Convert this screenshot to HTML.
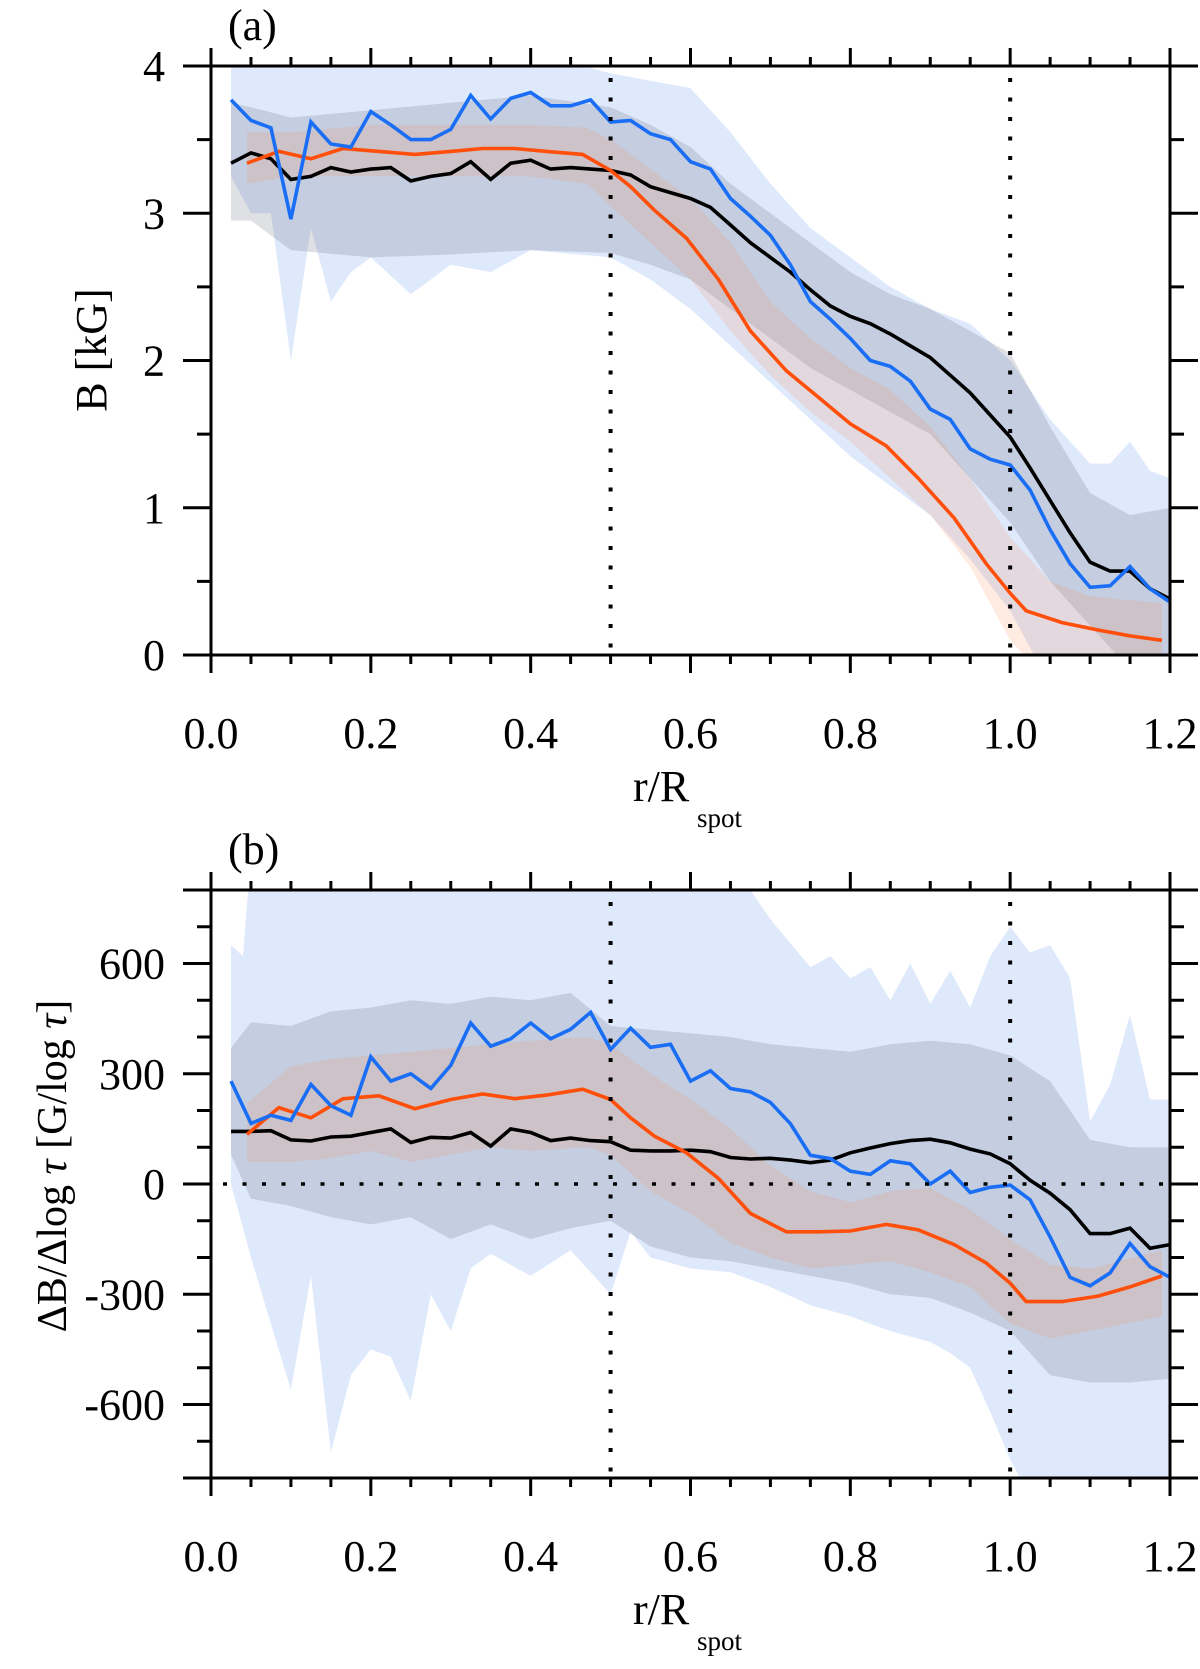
<!DOCTYPE html>
<html><head><meta charset="utf-8">
<style>
html,body{margin:0;padding:0;background:#fff;}
svg{display:block;font-family:"Liberation Serif",serif;}
</style></head>
<body>
<svg id="fig" width="1200" height="1669" viewBox="0 0 1200 1669">
<defs>
<clipPath id="clipA"><rect x="211" y="66" width="959" height="589"/></clipPath>
<clipPath id="clipB"><rect x="211" y="890" width="959" height="588"/></clipPath>
</defs>
<g id="panelA"></g>
<g id="panelB"></g>
</svg>
<script>
// ---------- Panel (a) data ----------
const xGrid = [0.025,0.05,0.075,0.1,0.125,0.15,0.175,0.2,0.225,0.25,0.275,0.3,0.325,0.35,0.375,0.4,0.425,0.45,0.475,0.5,0.525,0.55,0.575,0.6,0.625,0.65,0.675,0.7,0.725,0.75,0.775,0.8,0.825,0.85,0.875,0.9,0.925,0.95,0.975,1.0,1.025,1.05,1.075,1.1,1.125,1.15,1.175,1.2];
const aBlue = [3.77,3.63,3.58,2.96,3.62,3.47,3.45,3.69,3.6,3.5,3.5,3.57,3.8,3.64,3.78,3.82,3.73,3.73,3.77,3.62,3.63,3.54,3.5,3.35,3.3,3.1,2.98,2.85,2.65,2.4,2.28,2.15,2.0,1.96,1.86,1.67,1.6,1.4,1.33,1.29,1.12,0.85,0.62,0.46,0.47,0.6,0.45,0.36];
const aBlack = [3.34,3.41,3.37,3.23,3.25,3.31,3.28,3.3,3.31,3.22,3.25,3.27,3.35,3.23,3.34,3.36,3.3,3.31,3.3,3.29,3.26,3.18,3.14,3.1,3.04,2.92,2.8,2.7,2.6,2.48,2.37,2.3,2.25,2.18,2.1,2.02,1.9,1.78,1.63,1.48,1.27,1.05,0.83,0.63,0.57,0.57,0.45,0.38];
const xOrange = [0.045,0.085,0.125,0.165,0.21,0.255,0.3,0.34,0.38,0.42,0.465,0.5,0.525,0.555,0.595,0.635,0.675,0.72,0.76,0.8,0.845,0.885,0.93,0.97,1.0,1.02,1.065,1.11,1.15,1.19];
const aOrange = [3.34,3.42,3.37,3.44,3.42,3.4,3.42,3.44,3.44,3.42,3.4,3.29,3.18,3.02,2.83,2.55,2.2,1.93,1.75,1.57,1.42,1.2,0.93,0.62,0.42,0.3,0.22,0.17,0.13,0.1];
// bands (a)
const aBlueBandX = [0.025,0.05,0.075,0.1,0.125,0.15,0.175,0.2,0.25,0.3,0.35,0.4,0.5,0.55,0.6,0.65,0.7,0.75,0.8,0.85,0.9,0.95,1.0,1.05,1.1,1.125,1.15,1.175,1.2];
const aBlueBandHi = [4.1,4.1,4.1,4.0,4.1,4.1,4.1,4.1,4.1,4.1,4.1,4.1,3.95,3.9,3.85,3.55,3.2,2.9,2.7,2.5,2.35,2.25,2.0,1.6,1.3,1.3,1.45,1.25,1.2];
const aBlueBandLo = [3.25,3.0,3.0,2.0,2.9,2.4,2.6,2.7,2.45,2.65,2.6,2.75,2.7,2.55,2.35,2.1,1.85,1.6,1.35,1.15,0.95,0.65,0.3,-0.2,-0.2,-0.2,-0.2,-0.2,-0.2];
const aGrayBandX = [0.025,0.05,0.1,0.2,0.3,0.4,0.5,0.55,0.6,0.65,0.7,0.75,0.8,0.85,0.9,0.95,1.0,1.05,1.1,1.15,1.2];
const aGrayBandHi = [3.75,3.72,3.65,3.7,3.75,3.8,3.72,3.6,3.45,3.2,3.0,2.8,2.6,2.45,2.35,2.2,2.05,1.55,1.1,0.95,1.0];
const aGrayBandLo = [2.95,2.95,2.75,2.7,2.72,2.75,2.73,2.65,2.55,2.35,2.15,1.95,1.8,1.65,1.5,1.2,0.9,0.5,0.2,-0.1,-0.2];
const aOrBandX = [0.045,0.1,0.2,0.3,0.4,0.47,0.5,0.55,0.6,0.65,0.7,0.75,0.8,0.85,0.9,0.95,1.0,1.05,1.1,1.19];
const aOrBandHi = [3.55,3.55,3.6,3.6,3.6,3.58,3.5,3.3,3.1,2.8,2.4,2.15,1.95,1.8,1.55,1.2,0.8,0.5,0.4,0.35];
const aOrBandLo = [3.2,3.25,3.25,3.25,3.25,3.2,3.05,2.8,2.55,2.2,1.9,1.65,1.45,1.2,0.95,0.6,0.1,-0.2,-0.2,-0.2];
const aYTicks = [0,1,2,3,4];
const xTickLabels = ["0.0","0.2","0.4","0.6","0.8","1.0","1.2"];

// ---------- Panel (b) data ----------
const bBlue = [280,165,187,173,271,213,187,346,280,300,260,323,438,375,395,438,395,421,467,366,424,372,380,280,308,260,251,222,164,78,69,35,26,63,55,0,35,-23,-9,-3,-43,-144,-254,-277,-242,-162,-225,-254];
const bBlack = [143,143,145,120,117,128,130,140,150,113,127,125,140,103,150,140,118,125,118,115,92,90,90,92,88,72,68,70,65,58,65,85,98,110,118,122,112,95,82,55,10,-25,-70,-135,-135,-120,-175,-165];
const bOrange = [135,208,180,232,240,205,230,245,232,242,258,230,180,130,85,15,-80,-130,-130,-128,-110,-125,-165,-215,-270,-320,-320,-305,-280,-250];
const bBlueBandX = [0.025,0.04,0.05,0.075,0.1,0.125,0.15,0.175,0.2,0.225,0.25,0.275,0.3,0.325,0.35,0.4,0.45,0.5,0.525,0.55,0.6,0.65,0.7,0.75,0.775,0.8,0.825,0.85,0.875,0.9,0.925,0.95,0.975,1.0,1.025,1.05,1.075,1.1,1.125,1.15,1.175,1.2];
const bBlueBandHi = [650,620,900,900,900,900,900,900,900,900,900,900,900,900,900,900,900,900,900,900,900,880,720,590,620,560,590,500,600,490,580,480,620,700,630,650,560,170,270,460,230,230];
const bBlueBandLo = [0,-120,-200,-380,-560,-250,-730,-520,-450,-470,-590,-300,-400,-230,-190,-250,-180,-300,-130,-200,-230,-240,-280,-330,-345,-360,-380,-400,-415,-430,-460,-500,-620,-750,-850,-900,-900,-900,-900,-900,-900,-900];
const bGrayBandX = [0.025,0.05,0.1,0.15,0.2,0.25,0.3,0.35,0.4,0.45,0.5,0.55,0.6,0.65,0.7,0.75,0.8,0.85,0.9,0.95,1.0,1.05,1.1,1.15,1.2];
const bGrayBandHi = [370,440,430,470,480,500,490,510,500,520,430,420,410,400,380,370,360,380,390,380,350,280,120,100,100];
const bGrayBandLo = [80,-40,-60,-90,-110,-90,-150,-110,-150,-120,-100,-170,-200,-210,-230,-250,-270,-300,-310,-350,-400,-520,-540,-540,-530];
const bOrBandX = [0.045,0.1,0.15,0.2,0.25,0.3,0.35,0.4,0.47,0.5,0.55,0.6,0.65,0.7,0.75,0.8,0.85,0.9,0.95,1.0,1.05,1.1,1.19];
const bOrBandHi = [220,320,340,350,360,370,380,390,400,380,300,230,150,50,-20,-50,-20,-10,-70,-150,-220,-230,-180];
const bOrBandLo = [60,60,70,90,60,80,100,90,100,80,-20,-80,-160,-200,-230,-220,-210,-240,-280,-380,-420,-400,-360];
const bYTicks = [-600,-300,0,300,600];

const NS = "http://www.w3.org/2000/svg";
function mk(tag, attrs, parent){const e=document.createElementNS(NS,tag);for(const k in attrs)e.setAttribute(k,attrs[k]);parent.appendChild(e);return e;}

const X0=211, X1=1170;
function xs(v){return X0+(v/1.2)*(X1-X0);}

function drawPanel(g, cfg){
  const ys = v => cfg.yb + (v-cfg.ymin)/(cfg.ymax-cfg.ymin)*(cfg.yt-cfg.yb);
  const clip = mk('g',{'clip-path':'url(#'+cfg.clip+')'},g);
  function band(bx,hi,lo,fill,name){
    let d='M';
    bx.forEach((x,i)=>{d+=(i?'L':'')+xs(x).toFixed(1)+','+ys(hi[i]).toFixed(1);});
    for(let i=bx.length-1;i>=0;i--)d+='L'+xs(bx[i]).toFixed(1)+','+ys(lo[i]).toFixed(1);
    const p=mk('path',{d:d+'Z',fill:fill,stroke:'none'},clip);
    
    
  }
  band(cfg.blueBand[0],cfg.blueBand[1],cfg.blueBand[2],'rgb(222,233,252)','blue-error-band');
  band(cfg.grayBand[0],cfg.grayBand[1],cfg.grayBand[2],'rgba(95,100,115,0.2)','black-error-band');
  band(cfg.orBand[0],cfg.orBand[1],cfg.orBand[2],'rgba(255,130,70,0.16)','orange-error-band');
  function line(lx,ly,col,name){
    const pts=lx.map((x,i)=>xs(x).toFixed(1)+','+ys(ly[i]).toFixed(1)).join(' ');
    const p=mk('polyline',{points:pts,fill:'none',stroke:col,'stroke-width':3.6,'stroke-linejoin':'miter'},clip);
    
    
  }
  line(xGrid,cfg.black,'#000','black-line');
  line(xOrange,cfg.orange,'#ff4f0a','orange-line');
  line(xGrid,cfg.blue,'#1a6ef5','blue-line');
  // dotted reference lines
  [0.5,1.0].forEach(v=>{
    const l=mk('line',{x1:xs(v),x2:xs(v),y1:cfg.yt+12,y2:cfg.yb,stroke:'#000','stroke-width':4,'stroke-dasharray':'4 15.5'},g);
    
    
  });
  if(cfg.zeroLine){
    const l=mk('line',{x1:X0+12,x2:X1,y1:ys(0),y2:ys(0),stroke:'#000','stroke-width':3.5,'stroke-dasharray':'4 15.5'},g);
    
    
  }
  // frame
  const ax=mk('g',{stroke:'#000','stroke-width':3,fill:'none'},g);
  
  
  mk('line',{x1:X0,x2:X0,y1:cfg.yt-18,y2:cfg.yb+18},ax);
  mk('line',{x1:X1,x2:X1,y1:cfg.yt-18,y2:cfg.yb+18},ax);
  mk('line',{x1:X0-28,x2:X1+28,y1:cfg.yt,y2:cfg.yt},ax);
  mk('line',{x1:X0-28,x2:X1+28,y1:cfg.yb,y2:cfg.yb},ax);
  // x ticks
  for(let i=0;i<=24;i++){
    const v=i*0.05, x=xs(v), major=(i%4===0);
    if(major){
      mk('line',{x1:x,x2:x,y1:cfg.yt-18,y2:cfg.yt},ax);
      mk('line',{x1:x,x2:x,y1:cfg.yb,y2:cfg.yb+18},ax);
    } else {
      mk('line',{x1:x,x2:x,y1:cfg.yt-9,y2:cfg.yt},ax);
      mk('line',{x1:x,x2:x,y1:cfg.yb,y2:cfg.yb+9},ax);
    }
  }
  // y ticks
  for(let v=cfg.ymin; v<=cfg.ymax+1e-9; v+=cfg.minor){
    const y=ys(v);
    const major=Math.abs(v/cfg.major-Math.round(v/cfg.major))<1e-6;
    const len=major?28:14;
    mk('line',{x1:X0-len,x2:X0,y1:y,y2:y},ax);
    mk('line',{x1:X1,x2:X1+len,y1:y,y2:y},ax);
  }
  // labels
  cfg.yTicks.forEach(v=>{
    const t=mk('text',{x:165,y:ys(v)+15,'text-anchor':'end','font-size':44,fill:'#000'},g);
    t.textContent=String(v);
    
    
  });
  xTickLabels.forEach((s,i)=>{
    const t=mk('text',{x:xs(i*0.2),y:cfg.yb+93,'text-anchor':'middle','font-size':44,fill:'#000'},g);
    t.textContent=s;
    
    
  });
  const xt=mk('text',{x:633,y:cfg.yb+146,'font-size':44,fill:'#000'},g);
  xt.textContent='r/R';
  
  
  const sub=mk('text',{x:697,y:cfg.yb+172,'font-size':27,fill:'#000'},g);
  sub.textContent='spot';
  
  
  const pl=mk('text',{x:228,y:cfg.yt-26,'font-size':44,fill:'#000'},g);
  pl.textContent=cfg.label;
  
  
}

drawPanel(document.getElementById('panelA'),{
  yt:66, yb:655, ymin:0, ymax:4, major:1, minor:0.5, yTicks:aYTicks, clip:'clipA',
  blue:aBlue, black:aBlack, orange:aOrange,
  blueBand:[aBlueBandX,aBlueBandHi,aBlueBandLo],
  grayBand:[aGrayBandX,aGrayBandHi,aGrayBandLo],
  orBand:[aOrBandX,aOrBandHi,aOrBandLo],
  label:'(a)', zeroLine:false
});
drawPanel(document.getElementById('panelB'),{
  yt:890, yb:1478, ymin:-800, ymax:800, major:300, minor:100, yTicks:bYTicks, clip:'clipB',
  blue:bBlue, black:bBlack, orange:bOrange,
  blueBand:[bBlueBandX,bBlueBandHi,bBlueBandLo],
  grayBand:[bGrayBandX,bGrayBandHi,bGrayBandLo],
  orBand:[bOrBandX,bOrBandHi,bOrBandLo],
  label:'(b)', zeroLine:true
});
</script>
<svg width="0" height="0" style="position:absolute;left:0;top:0"></svg>
<div style="position:absolute;left:0;top:0;width:1200px;height:1669px;pointer-events:none">
<svg width="1200" height="1669" style="position:absolute;left:0;top:0;font-family:'Liberation Serif',serif">
<text x="0" y="0" font-size="44" text-anchor="middle" transform="translate(106,350) rotate(-90)">B [kG]</text>
<text x="0" y="0" font-size="42" text-anchor="middle" transform="translate(66,1166) rotate(-90)">ΔB/Δlog <tspan font-style="italic">τ</tspan> [G/log <tspan font-style="italic">τ</tspan>]</text>
</svg>
</div>
</body></html>
